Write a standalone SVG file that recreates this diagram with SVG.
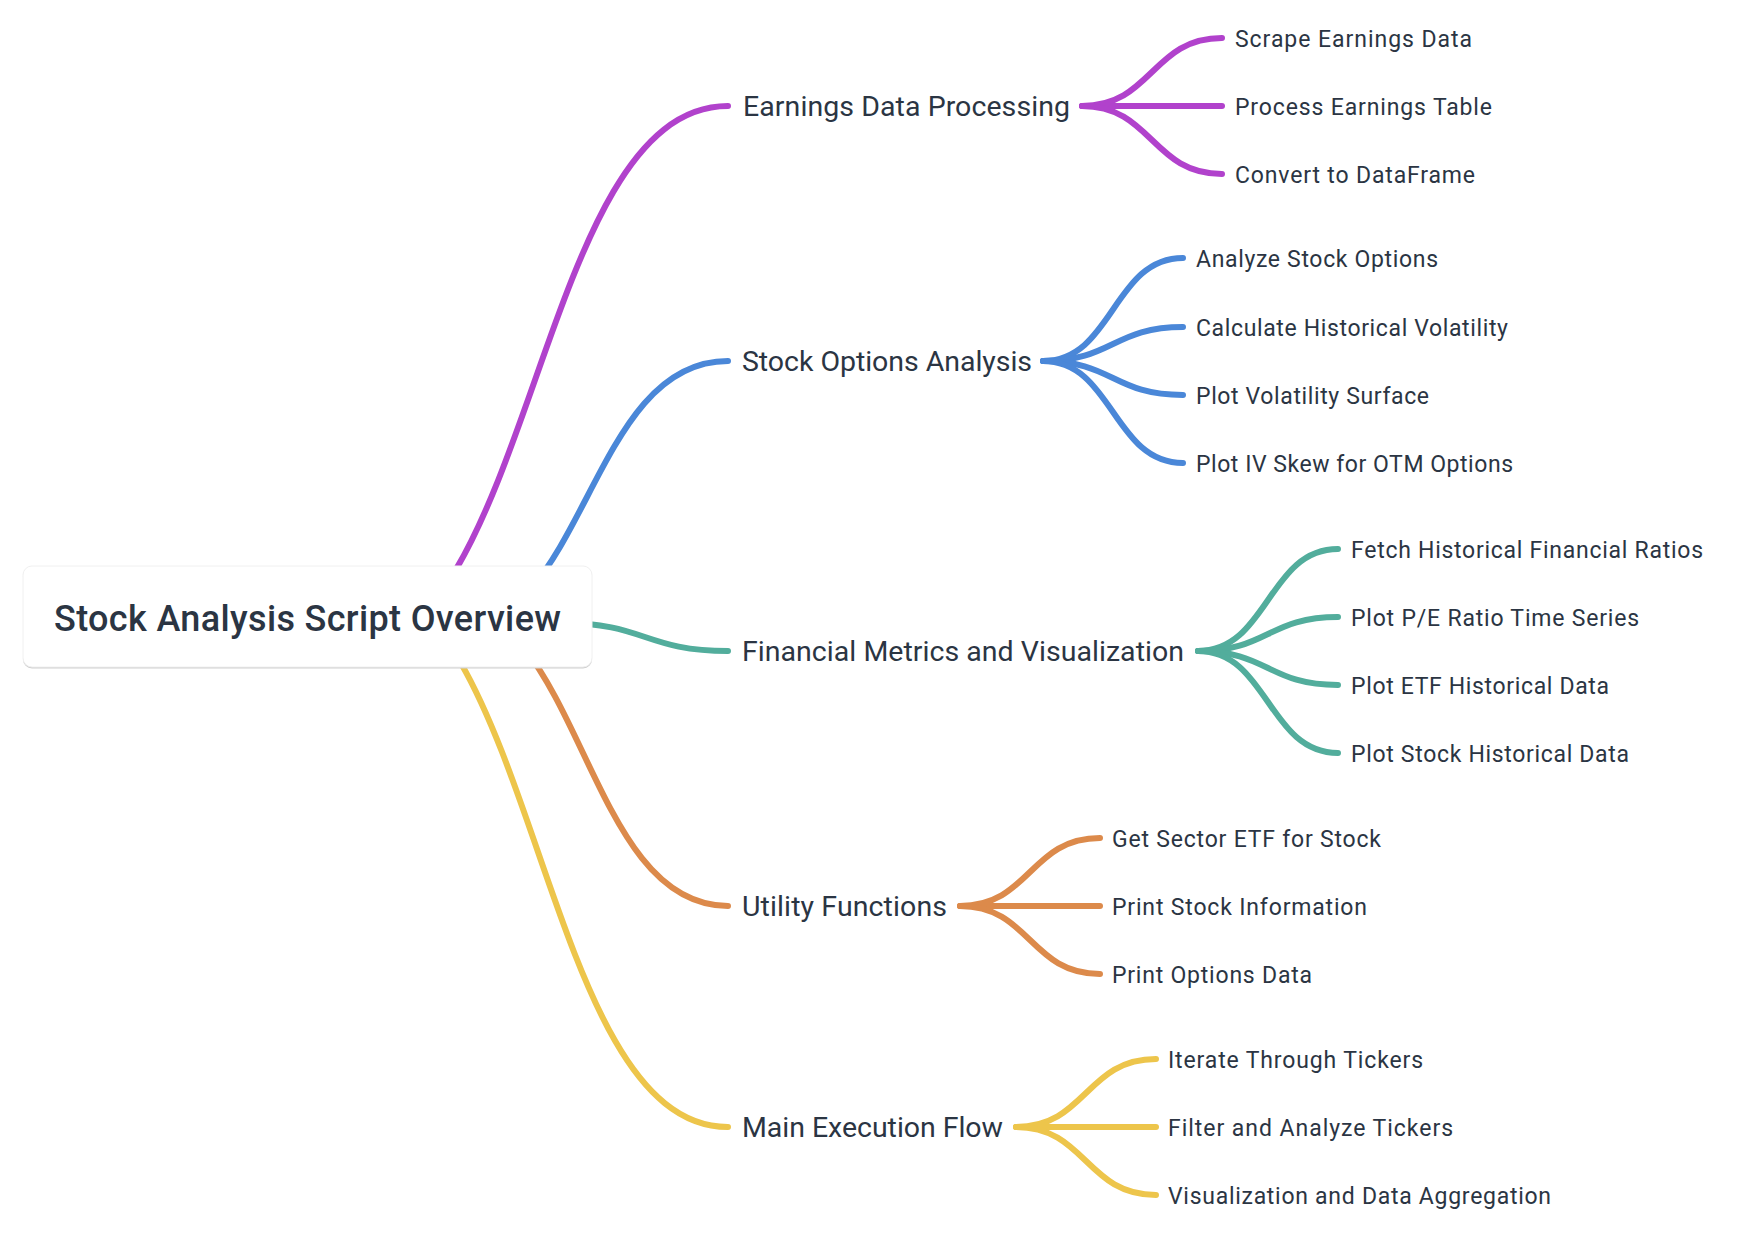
<svg xmlns="http://www.w3.org/2000/svg" width="1740" height="1242" viewBox="0 0 1740 1242">
<style>
  .e { fill: none; stroke-width: 6; stroke-linecap: round; }
  .p { stroke: #B142CC; }
  .b { stroke: #4A87D8; }
  .t { stroke: #52AD9C; }
  .o { stroke: #DC8A4B; }
  .y { stroke: #EDC54B; }
  text { font-family: Roboto, "Liberation Sans", sans-serif; fill: #2B3543; }
  .root { font-size: 36px; font-weight: 500; }
  .br { font-size: 28.5px; }
  .lf { font-size: 23px; }
</style>
<rect width="1740" height="1242" fill="#ffffff"/>
<g id="connectors">
  <path class="e p" d="M342,654 C535,654 535,106 728,106"/>
  <path class="e b" d="M446,633 C587,633 587,361 728,361"/>
  <path class="e t" d="M562,623 C645,623 645,651 728,651"/>
  <path class="e o" d="M438,600 C583,600 583,906 728,906"/>
  <path class="e y" d="M348,577 C538,577 538,1127 728,1127"/>
  <path class="e p" d="M1082,106 C1152,106 1152,38 1222,38"/>
  <path class="e p" d="M1082,106 L1222,106"/>
  <path class="e p" d="M1082,106 C1152,106 1152,174 1222,174"/>
  <path class="e b" d="M1043,361 C1113,361 1113,258 1183,258"/>
  <path class="e b" d="M1043,361 C1113,361 1113,327 1183,327"/>
  <path class="e b" d="M1043,361 C1113,361 1113,395 1183,395"/>
  <path class="e b" d="M1043,361 C1113,361 1113,463 1183,463"/>
  <path class="e t" d="M1198,651 C1268,651 1268,549 1338,549"/>
  <path class="e t" d="M1198,651 C1268,651 1268,617 1338,617"/>
  <path class="e t" d="M1198,651 C1268,651 1268,685 1338,685"/>
  <path class="e t" d="M1198,651 C1268,651 1268,753 1338,753"/>
  <path class="e o" d="M960,906 C1030,906 1030,838 1100,838"/>
  <path class="e o" d="M960,906 L1100,906"/>
  <path class="e o" d="M960,906 C1030,906 1030,974 1100,974"/>
  <path class="e y" d="M1016,1127 C1086,1127 1086,1059 1156,1059"/>
  <path class="e y" d="M1016,1127 L1156,1127"/>
  <path class="e y" d="M1016,1127 C1086,1127 1086,1195 1156,1195"/>
</g>
<g id="root">
  <rect x="23" y="567.5" width="569" height="101" rx="9" fill="#cfcfcf"/>
  <rect x="23" y="566" width="569" height="101" rx="9" fill="#ffffff" stroke="#f0f0f0" stroke-width="1"/>
  <text class="root" x="54" y="631" textLength="507">Stock Analysis Script Overview</text>
</g>
<g id="n-earnings"><text class="br" x="743" y="116" textLength="327">Earnings Data Processing</text></g>
<g id="n-scrape"><text class="lf" x="1235" y="47" textLength="237">Scrape Earnings Data</text></g>
<g id="n-process"><text class="lf" x="1235" y="115" textLength="257">Process Earnings Table</text></g>
<g id="n-convert"><text class="lf" x="1235" y="183" textLength="240">Convert to DataFrame</text></g>

<g id="n-options"><text class="br" x="742" y="371" textLength="290">Stock Options Analysis</text></g>
<g id="n-analyze"><text class="lf" x="1196" y="267" textLength="242">Analyze Stock Options</text></g>
<g id="n-calc"><text class="lf" x="1196" y="336" textLength="312">Calculate Historical Volatility</text></g>
<g id="n-surface"><text class="lf" x="1196" y="404" textLength="233">Plot Volatility Surface</text></g>
<g id="n-skew"><text class="lf" x="1196" y="472" textLength="317">Plot IV Skew for OTM Options</text></g>

<g id="n-financial"><text class="br" x="742" y="661" textLength="442">Financial Metrics and Visualization</text></g>
<g id="n-fetch"><text class="lf" x="1351" y="558" textLength="352">Fetch Historical Financial Ratios</text></g>
<g id="n-pe"><text class="lf" x="1351" y="626" textLength="288">Plot P/E Ratio Time Series</text></g>
<g id="n-etf"><text class="lf" x="1351" y="694" textLength="258">Plot ETF Historical Data</text></g>
<g id="n-stockhist"><text class="lf" x="1351" y="762" textLength="278">Plot Stock Historical Data</text></g>

<g id="n-utility"><text class="br" x="742" y="916" textLength="205">Utility Functions</text></g>
<g id="n-sector"><text class="lf" x="1112" y="847" textLength="269">Get Sector ETF for Stock</text></g>
<g id="n-printinfo"><text class="lf" x="1112" y="915" textLength="255">Print Stock Information</text></g>
<g id="n-printopt"><text class="lf" x="1112" y="983" textLength="200">Print Options Data</text></g>

<g id="n-main"><text class="br" x="742" y="1137" textLength="261">Main Execution Flow</text></g>
<g id="n-iterate"><text class="lf" x="1168" y="1068" textLength="255">Iterate Through Tickers</text></g>
<g id="n-filter"><text class="lf" x="1168" y="1136" textLength="285">Filter and Analyze Tickers</text></g>
<g id="n-viz"><text class="lf" x="1168" y="1204" textLength="383">Visualization and Data Aggregation</text></g>
</svg>
